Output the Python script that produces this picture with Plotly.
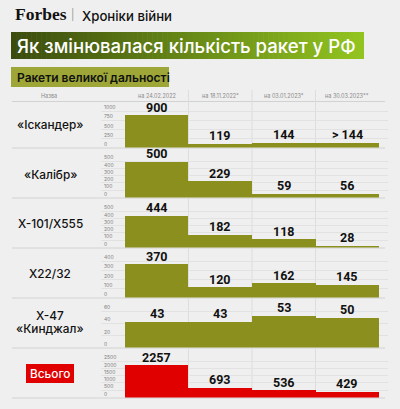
import plotly.graph_objects as go

# ---------------- data ----------------
names = ["«Іскандер»", "«Калібр»", "X-101/X555", "X22/32", "X-47|«Кинджал»", "Всього"]
dates = ["на 24.02.2022", "на 18.11.2022*", "на 03.01.2023*", "на 30.03.2023**"]
iskander = [900, 119, 144, 144]
kalibr = [500, 229, 59, 56]
x101 = [444, 182, 118, 28]
x22 = [370, 120, 162, 145]
x47 = [43, 43, 53, 50]
total = [2257, 693, 536, 429]
iskander_labels = ["900", "119", "144", "> 144"]
axis_max = [1000, 500, 500, 400, 60, 2500]
axis_step = [250, 100, 100, 100, 20, 500]

series = [iskander, kalibr, x101, x22, x47, total]
labels = [iskander_labels] + [[str(v) for v in s] for s in series[1:]]

# ---------------- style ----------------
W, H = 400, 409
BG = "#efefef"
OLIVE = "#8a8f1e"
RED = "#e00000"
FONT = "Inter"


def py(p):
    return 1 - p / H


def px(p):
    return p / W


bottoms = [147.5, 197.5, 247.5, 297.5, 347.5, 397.5]
PANEL_H = 44
SCALE_H = 36.5

fig = go.Figure()
layout = dict(
    width=W, height=H, margin=dict(l=0, r=0, t=0, b=0),
    paper_bgcolor=BG, plot_bgcolor="rgba(0,0,0,0)",
    showlegend=False, bargap=0,
    font=dict(family=FONT),
)

ann = []
xr = [-0.876, 3.641]
cats = [0, 1, 2, 3]
for k, (vals, labs) in enumerate(zip(series, labels)):
    i = k + 1
    color = RED if k == 5 else OLIVE
    fig.add_trace(go.Bar(
        x=cats, y=vals, width=1,
        marker=dict(color=color, line=dict(width=0)),
        xaxis=f"x{i}", yaxis=f"y{i}", hoverinfo="skip",
    ))
    for xc, v, lab in zip(cats, vals, labs):
        ann.append(dict(x=xc, y=v, xref=f"x{i}", yref=f"y{i}", text=lab, showarrow=False,
                        xanchor="center", yanchor="bottom", yshift=-2,
                        font=dict(family="Roboto", size=12.5, color="#111111", weight=700)))
    b = bottoms[k]
    m = axis_max[k]
    layout[f"xaxis{i}"] = dict(
        domain=[px(101), px(388)], range=xr, showticklabels=False,
        showgrid=False, zeroline=False, showline=False, fixedrange=True,
        anchor=f"y{i}",
    )
    layout[f"yaxis{i}"] = dict(
        domain=[py(b), py(b - PANEL_H)], range=[0, m * PANEL_H / SCALE_H],
        tickvals=list(range(0, m + 1, axis_step[k])),
        ticklabelposition="inside top", ticks="",
        tickfont=dict(size=5, color="#808080", family=FONT),
        showgrid=True, gridcolor="#e2e2e2", gridwidth=1,
        zeroline=False, showline=False, fixedrange=True,
        anchor=f"x{i}",
    )

shapes = []
# title banner gradient
c0 = (60, 76, 14)
c1 = (146, 196, 32)
x0b, x1b = 11, 364
N = 70
step = (x1b - x0b) / N
for j in range(N):
    t = j / (N - 1)
    c = tuple(int(round(c0[q] + (c1[q] - c0[q]) * t)) for q in range(3))
    shapes.append(dict(type="rect", xref="paper", yref="paper",
                       x0=px(x0b + j * step), x1=px(min(x0b + (j + 1) * step + 0.6, x1b)),
                       y0=py(59), y1=py(32), line=dict(width=0),
                       fillcolor=f"rgb{c}", layer="below"))
# subtitle box
shapes.append(dict(type="rect", xref="paper", yref="paper", x0=px(11), x1=px(169),
                   y0=py(87), y1=py(67), line=dict(width=0), fillcolor="#9da636", layer="below"))
# header & row separators
for yy in [101.5] + [b + 0.5 for b in bottoms]:
    shapes.append(dict(type="line", xref="paper", yref="paper", x0=px(12), x1=px(385),
                       y0=py(yy), y1=py(yy), line=dict(color="#d2d2d2", width=1), layer="below"))
# column separators
for xv in [0.5, 1.5, 2.5]:
    shapes.append(dict(type="line", xref="x", yref="paper", x0=xv, x1=xv,
                       y0=py(398), y1=py(90), line=dict(color="#dddddd", width=1), layer="below"))
# total badge
shapes.append(dict(type="rect", xref="paper", yref="paper", x0=px(26), x1=px(74),
                   y0=py(383), y1=py(364), line=dict(width=0), fillcolor=RED))
layout["shapes"] = shapes


def text(x, y, s, size, color="#111111", weight=400, family=FONT, xanchor="center"):
    ann.append(dict(x=px(x), y=py(y), xref="paper", yref="paper", text=s, showarrow=False,
                    xanchor=xanchor, yanchor="middle",
                    font=dict(size=size, color=color, family=family, weight=weight)))


text(13, 14.5, "Forbes", 17.5, "#111111", 700, "Liberation Serif", "left")
text(72, 15, "|", 11, "#888888", 300, FONT)
text(80, 15.5, "Хроніки війни", 13.2, "#111111", 500, FONT, "left")
text(15, 45.5, "Як змінювалася кількість ракет у РФ", 18.6, "#ffffff", 500, FONT, "left")
text(15, 77.5, "Ракети великої дальності", 12, "#111111", 600, FONT, "left")
text(49, 96, "Назва", 5.5, "#8a8a8a")
for c, d in enumerate(dates):
    ann.append(dict(x=c, y=py(95.5), xref="x", yref="paper", text=d, showarrow=False,
                    xanchor="center", yanchor="middle",
                    font=dict(size=5.5, color="#8a8a8a", family=FONT)))

row_y = [125, 175, 224, 274, None, 374]
for k, nm in enumerate(names):
    if k == 4:
        a, bb = nm.split("|")
        text(50, 315.5, a, 11.8, "#111111", 500)
        text(50, 328.5, bb, 11.8, "#111111", 500)
    elif k == 5:
        text(50, 373.5, nm, 11.8, "#ffffff", 500)
    else:
        text(50, row_y[k], nm, 11.8, "#111111", 500)
layout["annotations"] = ann

fig.update_layout(**layout)
fig.write_html("out.html", config={"displayModeBar": False},
               post_script="document.body.style.margin='0';")
